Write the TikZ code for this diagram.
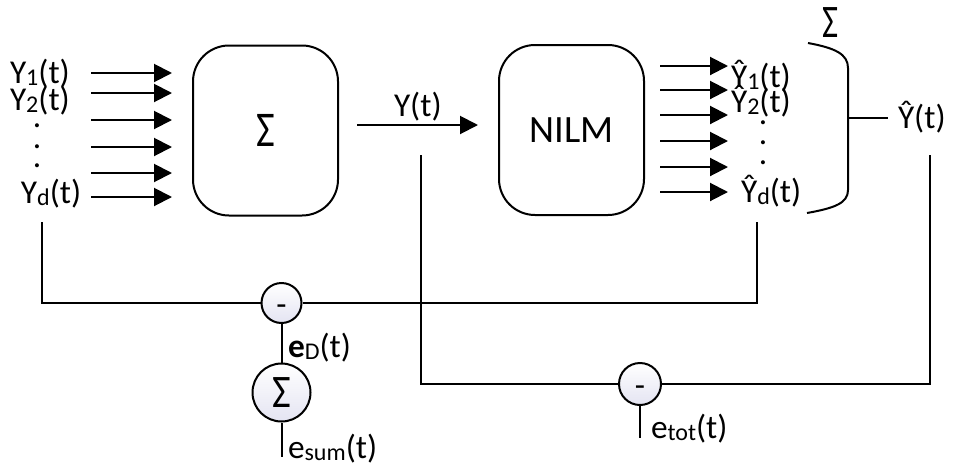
\documentclass[tikz,border=0pt]{standalone}
\usepackage{fontspec}
\setmainfont{Carlito}
\usetikzlibrary{arrows.meta}
\definecolor{cfill}{RGB}{228,228,242}
\newcommand\sbx[1]{\raisebox{-0.06em}{\fontsize{18}{18}\selectfont #1}}
\newcommand\mns{\raisebox{-0.38em}[0pt][0pt]{-}}
\begin{document}
\begin{tikzpicture}[x=0.75pt,y=-0.75pt,
  line width=1.5pt,
  lbl/.style={inner sep=0pt, font=\fontsize{25}{30}\selectfont},
  blk/.style={draw, rounded corners=27pt, minimum width=108.75pt, minimum height=127.5pt, inner sep=0pt, font=\fontsize{25}{30}\selectfont},
  sumc/.style={draw, circle, inner sep=0pt, top color=white, bottom color=cfill, font=\fontsize{25}{30}\selectfont},
  arr/.style={-{Triangle[length=13.5pt,width=13.5pt]}},
]
\useasboundingbox (0,0) rectangle (955,468);

% blocks
\node[blk] (sbox) at (265.5,130.5) {\scalebox{1.22}[1.5]{Σ}};
\node[blk, font=\fontsize{29}{34}\selectfont] (nilm) at (571.5,130) {NILM};

% left inputs
\foreach \y [count=\i] in {73,93,120,147,173,197} {
  \coordinate (li\i) at (91,\y);
  \coordinate (lo\i) at (172,\y);
  \draw[arr] (li\i) -- (lo\i);
}
\node[lbl, anchor=base west] (y1) at (9,83) {Y\sbx{1}(t)};
\node[lbl, anchor=base west] (y2) at (9,110) {Y\sbx{2}(t)};
\node[lbl] (ld1) at (37,126) {.};
\node[lbl] (ld2) at (37,147) {.};
\node[lbl] (ld3) at (37,166) {.};
\node[lbl, anchor=base west] (yd) at (20,203) {Y\sbx{d}(t)};

% Y(t)
\coordinate (ys) at (357,125);
\coordinate (ye) at (478,125);
\draw[arr] (ys) -- (ye);
\node[lbl, anchor=base west] (ylab) at (393,116) {Y(t)};

% right outputs
\foreach \y [count=\i] in {66,90,115,141,167,192} {
  \coordinate (ri\i) at (660,\y);
  \coordinate (ro\i) at (728,\y);
  \draw[arr] (ri\i) -- (ro\i);
}
\node[lbl, anchor=base west] (yh1) at (730,87) {Ŷ\sbx{1}(t)};
\node[lbl, anchor=base west] (yh2) at (730,112) {Ŷ\sbx{2}(t)};
\node[lbl] (rd1) at (763,123) {.};
\node[lbl] (rd2) at (763,143) {.};
\node[lbl] (rd3) at (763,163) {.};
\node[lbl, anchor=base west] (yhd) at (740,202) {Ŷ\sbx{d}(t)};

% bracket
\draw (808,43) .. controls (835,48) and (848,54) .. (848,68) -- (848,190) .. controls (848,203) and (835,208) .. (807,213);
\node[lbl] (topsig) at (831,23) {\scalebox{1.05}[1.4]{Σ}};
\coordinate (bt) at (848,118);
\coordinate (tk) at (888,118);
\draw (bt) -- (tk);
\node[lbl, anchor=base west] (yhat) at (897,128) {Ŷ(t)};

% feedback
\node[sumc, minimum size=30pt] (c1) at (281.5,303) {\mns};
\node[sumc, minimum size=43.5pt] (c2) at (281.5,392.5) {\scalebox{1.22}[1.4]{Σ}};
\node[sumc, minimum size=31.5pt] (c3) at (640,384) {\mns};
\coordinate (a1) at (42,222);
\coordinate (a2) at (757,222);
\draw (a1) |- (c1.west);
\draw (c1.east) -| (a2);
\draw (c1.south) -- (c2.north);
\coordinate (esumend) at (281.5,457);
\draw (c2.south) -- (esumend);
\coordinate (b1) at (421,155);
\coordinate (b2) at (930,155);
\draw (b1) |- (c3.west);
\draw (c3.east) -| (b2);
\coordinate (etotend) at (640,438);
\draw (c3.south) -- (etotend);

\node[lbl, anchor=base west] (ed) at (287,357) {\textbf{e}\sbx{D}(t)};
\node[lbl, anchor=base west] (esum) at (287,458) {e\sbx{sum}(t)};
\node[lbl, anchor=base west] (etot) at (650,438) {e\sbx{tot}(t)};
\end{tikzpicture}
\end{document}
